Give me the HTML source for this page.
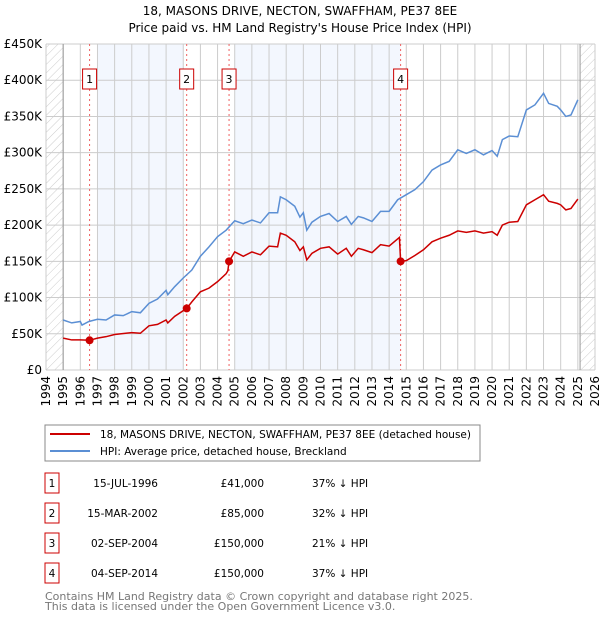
<!DOCTYPE html>
<html><head><meta charset="utf-8"><style>
body{margin:0;background:#fff;font-family:"DejaVu Sans","Liberation Sans",sans-serif;}
svg text{font-family:"DejaVu Sans","Liberation Sans",sans-serif;}
</style></head><body>
<svg id="c" width="600" height="620" xmlns="http://www.w3.org/2000/svg">
<defs><pattern id="hatch" width="6" height="6" patternUnits="userSpaceOnUse" patternTransform="rotate(45)"><line x1="0" y1="0" x2="0" y2="6" stroke="#ccc" stroke-width="1"/></pattern></defs>
<text x="300" y="15" text-anchor="middle" font-size="12">18, MASONS DRIVE, NECTON, SWAFFHAM, PE37 8EE</text>
<text x="300" y="32" text-anchor="middle" font-size="12">Price paid vs. HM Land Registry's House Price Index (HPI)</text>
<g id="plot"></g>
<rect x="45" y="425" width="435" height="36" fill="#fff" stroke="#888"/>
<line x1="50" y1="434" x2="90" y2="434" stroke="#cc0000" stroke-width="2"/>
<text x="100" y="438" font-size="10.5">18, MASONS DRIVE, NECTON, SWAFFHAM, PE37 8EE (detached house)</text>
<line x1="50" y1="451" x2="90" y2="451" stroke="#5b8fd4" stroke-width="2"/>
<text x="100" y="455" font-size="10.5">HPI: Average price, detached house, Breckland</text>
<g id="table"></g>
<text x="45" y="600" font-size="11" fill="#777">Contains HM Land Registry data © Crown copyright and database right 2025.</text>
<text x="45" y="610" font-size="11" fill="#777">This data is licensed under the Open Government Licence v3.0.</text>
</svg>
<script>
const hpiYears=[1995,1995.5,1996,1996.1,1996.5,1997,1997.5,1998,1998.5,1999,1999.5,2000,2000.5,2001,2001.1,2001.5,2002,2002.5,2003,2003.5,2004,2004.5,2005,2005.5,2006,2006.5,2007,2007.5,2007.66,2008,2008.5,2008.8,2009,2009.2,2009.5,2010,2010.5,2011,2011.5,2011.8,2012.2,2012.5,2013,2013.5,2014,2014.5,2015,2015.5,2016,2016.5,2017,2017.5,2018,2018.5,2019,2019.5,2020,2020.3,2020.6,2021,2021.5,2022,2022.5,2023,2023.3,2023.8,2024,2024.3,2024.6,2025];
const hpiValues=[69,65,67,62,67,70,69,76,75,80.6,79,92,98,110,104,115,127,138,157,170,184,193,206,202,207,203,217,217,239,235,226,211,217,193,204,212,216,205,212,201,212,210,205,219,219,235,242,249,260,276,283,288,304,299,304,297,303,295,318,323,322,359,366,382,368,364,359,350,352,373];
const ppYears=[1995,1995.5,1996,1996.54,1997,1997.5,1998,1999,1999.5,2000,2000.5,2001,2001.1,2001.5,2002.2,2002.5,2003,2003.5,2004,2004.5,2004.6,2004.67,2005,2005.5,2006,2006.5,2007,2007.5,2007.66,2008,2008.5,2008.8,2009,2009.2,2009.5,2010,2010.5,2011,2011.5,2011.8,2012.2,2012.5,2013,2013.5,2014,2014.6,2014.67,2015,2015.5,2016,2016.5,2017,2017.5,2018,2018.5,2019,2019.5,2020,2020.3,2020.6,2021,2021.5,2022,2022.5,2023,2023.3,2023.8,2024,2024.3,2024.6,2025];
const ppValues=[44,41.5,41.5,41,44,46,49,51.6,50.7,61,63,69,65,74,85,94,108,113,122,133,137,150,163,157,163,159,171,170,189,186,177,165,170,152,161,168,170,160,168,157,168,166,162,173,171,183,150,151,158,166,177,182,186,192,190,192,189,191,186,200,204,205,228,235,242,233,230,228,221,223,236];
const saleLabels=["1","2","3","4"];
const saleYears=[1996.54,2002.2,2004.67,2014.67];
const saleValues=[41,85,150,150];
const saleDates=["15-JUL-1996","15-MAR-2002","02-SEP-2004","04-SEP-2014"];
const salePrices=["£41,000","£85,000","£150,000","£150,000"];
const saleDiffs=["37% ↓ HPI","32% ↓ HPI","21% ↓ HPI","37% ↓ HPI"];
const yTicks=[0,50,100,150,200,250,300,350,400,450];
const yTickLabels=["£0","£50K","£100K","£150K","£200K","£250K","£300K","£350K","£400K","£450K"];
const xTicks=[1994,1995,1996,1997,1998,1999,2000,2001,2002,2003,2004,2005,2006,2007,2008,2009,2010,2011,2012,2013,2014,2015,2016,2017,2018,2019,2020,2021,2022,2023,2024,2025,2026];
const shadeBands=[[1997,2002],[2005,2014.67]];

const L=46,R=595,T=44,B=370;
const X=y=>L+(y-1994)*(R-L)/32;
const Y=v=>B-v*(B-T)/450;
const NS="http://www.w3.org/2000/svg";
const plot=document.getElementById('plot');
function mk(tag,attrs,parent){const e=document.createElementNS(NS,tag);for(const k in attrs)e.setAttribute(k,attrs[k]);(parent||plot).appendChild(e);return e;}

shadeBands.forEach(b=>{
 const r=mk('rect',{x:X(b[0]),y:T,width:X(b[1])-X(b[0]),height:B-T,fill:'#eef3fd',opacity:0.7});
 
 
});
const h1=mk('rect',{x:L,y:T,width:X(1995)-L,height:B-T,fill:'url(#hatch)'});


const h2=mk('rect',{x:X(2025.13),y:T,width:R-X(2025.13),height:B-T,fill:'url(#hatch)'});



yTicks.forEach((v,i)=>{
 const g=mk('line',{x1:L,x2:R,y1:Y(v),y2:Y(v),stroke:'#ccc','stroke-width':1});
 
 
 const t=mk('text',{x:L-4,y:Y(v)+4,'text-anchor':'end','font-size':12});
 t.textContent=yTickLabels[i];
 
 
});
xTicks.forEach(y=>{
 const g=mk('line',{x1:X(y),x2:X(y),y1:T,y2:B,stroke:'#ccc','stroke-width':1});
 
 
 const t=mk('text',{x:0,y:0,'text-anchor':'end','font-size':12,transform:`translate(${X(y)+4},${B+6}) rotate(-90)`});
 t.textContent=y;
 
 
});
const ax1=mk('line',{x1:X(1995),x2:X(1995),y1:T,y2:B,stroke:'#999'});


const ax2=mk('line',{x1:X(2025.13),x2:X(2025.13),y1:T,y2:B,stroke:'#999'});



saleYears.forEach((y,i)=>{
 const l=mk('line',{x1:X(y),x2:X(y),y1:T,y2:B,stroke:'#f06060','stroke-dasharray':'2,3'});
 
 
 const r=mk('rect',{x:X(y)-7,y:69,width:14,height:20,fill:'#fff',stroke:'#cc0000'});
 
 
 const t=mk('text',{x:X(y),y:83,'text-anchor':'middle','font-size':11});
 t.textContent=saleLabels[i];
 
 
});
const hp=mk('polyline',{points:hpiYears.map((y,i)=>X(y)+','+Y(hpiValues[i])).join(' '),fill:'none',stroke:'#5b8fd4','stroke-width':1.5});


const pp=mk('polyline',{points:ppYears.map((y,i)=>X(y)+','+Y(ppValues[i])).join(' '),fill:'none',stroke:'#cc0000','stroke-width':1.5});


saleYears.forEach((y,i)=>{
 const c=mk('circle',{cx:X(y),cy:Y(saleValues[i]),r:4,fill:'#cc0000'});
 
 
});

const tb=document.getElementById('table');
saleLabels.forEach((s,i)=>{
 const cy=483+i*30;
 const r=mk('rect',{x:45,y:cy-10,width:14,height:20,fill:'#fff',stroke:'#cc0000'},tb);
 
 
 const cells=[[s,52,'middle'],[saleDates[i],158,'end'],[salePrices[i],264,'end'],[saleDiffs[i],312,'start']];
 const names=['table-row-number','table-row-date','table-row-price','table-row-diff'];
 cells.forEach((c,j)=>{
  const t=mk('text',{x:c[1],y:cy+4,'text-anchor':c[2],'font-size':10.5},tb);
  t.textContent=c[0];
  
  
 });
});
</script>
</body></html>
